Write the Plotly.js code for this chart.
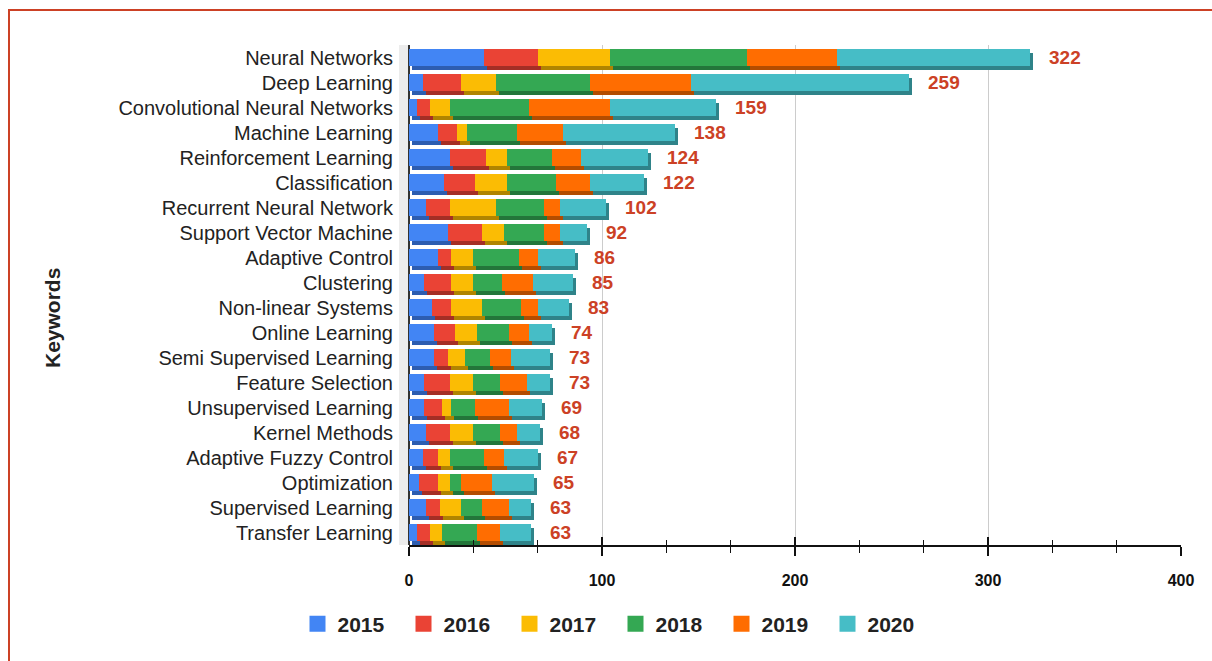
<!DOCTYPE html>
<html>
<head>
<meta charset="utf-8">
<script src="https://cdn.plot.ly/plotly-3.0.1.min.js"></script>
<style>
  html, body { margin: 0; padding: 0; background: #fff; }
  #chart { width: 1212px; height: 661px; }
  #frame { position: absolute; left: 8px; top: 9px; width: 1212px; height: 661px;
           border-left: 2px solid #cc4125; border-top: 2px solid #cc4125; pointer-events: none; }
</style>
</head>
<body>
<div id="chart"></div>
<div id="frame"></div>
<script>
const keywords = [
  "Neural Networks", "Deep Learning", "Convolutional Neural Networks", "Machine Learning",
  "Reinforcement Learning", "Classification", "Recurrent Neural Network", "Support Vector Machine",
  "Adaptive Control", "Clustering", "Non-linear Systems", "Online Learning",
  "Semi Supervised Learning", "Feature Selection", "Unsupervised Learning", "Kernel Methods",
  "Adaptive Fuzzy Control", "Optimization", "Supervised Learning", "Transfer Learning"
];
const years = ["2015", "2016", "2017", "2018", "2019", "2020"];
const v2015 = [39, 7, 4, 15, 21, 18, 9, 20, 15, 8, 12, 13, 13, 8, 8, 9, 7, 5, 9, 4];
const v2016 = [28, 20, 7, 10, 19, 16, 12, 18, 7, 14, 10, 11, 7, 13, 9, 12, 8, 10, 7, 7];
const v2017 = [37, 18, 10, 5, 11, 17, 24, 11, 11, 11, 16, 11, 9, 12, 5, 12, 6, 6, 11, 6];
const v2018 = [71, 49, 41, 26, 23, 25, 25, 21, 24, 15, 20, 17, 13, 14, 12, 14, 18, 6, 11, 18];
const v2019 = [47, 52, 42, 24, 15, 18, 8, 8, 10, 16, 9, 10, 11, 14, 18, 9, 10, 16, 14, 12];
const v2020 = [100, 113, 55, 58, 35, 28, 24, 14, 19, 21, 16, 12, 20, 12, 17, 12, 18, 22, 11, 16];
const totals = [322, 259, 159, 138, 124, 122, 102, 92, 86, 85, 83, 74, 73, 73, 69, 68, 67, 65, 63, 63];

const faceColors = ["#4285F4", "#EA4335", "#FBBC04", "#34A853", "#FF6D01", "#46BDC6"];
const shadeColors = ["#2d5db0", "#a52e25", "#b08400", "#23763a", "#b34c00", "#2f8389"];
const series = [v2015, v2016, v2017, v2018, v2019, v2020];

const FONT = "Liberation Sans, Arial, sans-serif";
const traces = [];
// shadow (3D depth) layer on base axes
series.forEach((vals, i) => {
  traces.push({
    type: "bar", orientation: "h", x: vals, y: keywords,
    xaxis: "x", yaxis: "y", width: 0.68,
    marker: { color: shadeColors[i] }, showlegend: false, hoverinfo: "skip"
  });
});
// front faces on overlay axes
series.forEach((vals, i) => {
  traces.push({
    type: "bar", orientation: "h", x: vals, y: keywords, name: years[i],
    xaxis: "x2", yaxis: "y2", width: 0.68, showlegend: false,
    marker: { color: faceColors[i] }
  });
});
// legend entries with larger square swatches
years.forEach((yr, i) => {
  traces.push({
    type: "scatter", mode: "markers", x: [null], y: [null], name: yr,
    xaxis: "x2", yaxis: "y2",
    marker: { symbol: "square", size: 19, color: faceColors[i] }
  });
});
// empty trace so the upward tick axis gets drawn
traces.push({ type: "scatter", mode: "markers", x: [null], y: [null],
  xaxis: "x3", yaxis: "y2", showlegend: false, hoverinfo: "skip" });

const annotations = totals.map((t, i) => ({
  x: t, y: keywords[i], xref: "x2", yref: "y2",
  text: String(t), showarrow: false, xanchor: "left", yanchor: "middle",
  xshift: 17, font: { family: FONT, size: 19, color: "#cc4125", weight: "bold" }
}));
annotations.push({
  xref: "paper", yref: "paper", x: -357 / 772, y: 0.454,
  text: "<b>Keywords</b>", showarrow: false, textangle: -90,
  xanchor: "center", yanchor: "middle",
  font: { family: FONT, size: 21, color: "#222" }
});

const layout = {
  width: 1212, height: 661,
  margin: { l: 409, r: 31, t: 45, b: 116 },
  paper_bgcolor: "#fff", plot_bgcolor: "rgba(0,0,0,0)",
  barmode: "stack", bargap: 0.32,
  font: { family: FONT, color: "#222" },
  xaxis: { range: [-1.55, 398.45], visible: false, fixedrange: true },
  yaxis: { type: "category", categoryorder: "array", categoryarray: keywords,
           range: [19.34, -0.66], visible: false, fixedrange: true },
  xaxis2: {
    overlaying: "x", anchor: "y2", side: "bottom",
    range: [0, 400], dtick: 100, tick0: 0,
    showgrid: true, gridcolor: "#cccccc", gridwidth: 1,
    zeroline: true, zerolinecolor: "#333", zerolinewidth: 1.5,
    showline: true, linecolor: "#111", linewidth: 2,
    ticks: "outside", ticklen: 9, tickcolor: "#111", tickwidth: 1.5,
    ticklabelstandoff: 11,
    minor: { dtick: 100 / 3, tick0: 0, ticks: "outside", ticklen: 6, tickcolor: "#111", tickwidth: 1.2, showgrid: false },
    tickfont: { size: 16, color: "#111", weight: "bold" }
  },
  xaxis3: {
    overlaying: "x", anchor: "y2", side: "bottom",
    range: [0, 400], dtick: 100, tick0: 0, showgrid: false, zeroline: false,
    showline: false, showticklabels: false,
    ticks: "inside", ticklen: 8, tickcolor: "#111", tickwidth: 1.5,
    minor: { dtick: 100 / 3, tick0: 0, ticks: "inside", ticklen: 5, tickcolor: "#111", tickwidth: 1.2, showgrid: false }
  },
  yaxis2: {
    overlaying: "y", anchor: "x2", side: "left",
    type: "category", categoryorder: "array", categoryarray: keywords,
    range: [19.5, -0.5], showgrid: false, zeroline: false, showline: false,
    ticks: "", ticklabelstandoff: 15,
    tickfont: { size: 20, color: "#222" }
  },
  shapes: [{
    type: "rect", xref: "paper", yref: "paper", x0: -10 / 772, x1: 0, y0: 0, y1: 1,
    fillcolor: "#ececec", line: { width: 0 }, layer: "below"
  }],
  legend: {
    orientation: "h", x: (615.5 - 409) / 772, xanchor: "center", y: -0.158, yanchor: "middle",
    font: { size: 21, color: "#222", weight: "bold" },
    traceorder: "normal", entrywidth: 61, entrywidthmode: "pixels"
  },
  annotations: annotations
};

Plotly.newPlot("chart", traces, layout, { displayModeBar: false, staticPlot: true });
</script>
</body>
</html>
